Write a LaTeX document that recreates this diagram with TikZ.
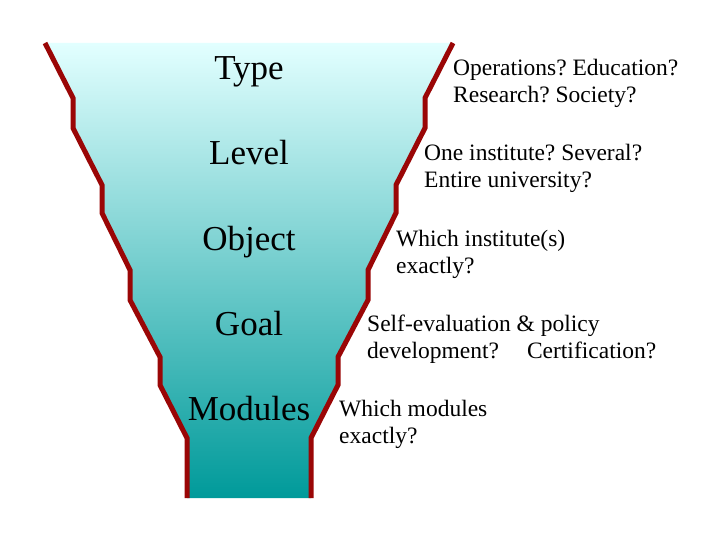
\documentclass[tikz,border=0pt]{standalone}
\usepackage{fontspec}
\setmainfont{Liberation Serif}
\frenchspacing
\definecolor{funneltop}{HTML}{E2FFFF}
\definecolor{funnelbot}{HTML}{009A9A}
\definecolor{edgered}{HTML}{9A0606}
\begin{document}
\begin{tikzpicture}[x=1pt,y=-1pt,
  edge/.style={draw=edgered,line width=5pt,line join=miter},
  stage/.style={anchor=base,inner sep=0pt,font=\fontsize{35}{40}\selectfont},
  question/.style={anchor=base west,inner sep=0pt,align=left,font=\fontsize{23.5}{27}\selectfont}]
\useasboundingbox (0,0) rectangle (720,540);
\shade[top color=funneltop,bottom color=funnelbot]
  (45,43) -- (73,98) -- (73,128) -- (102,185) -- (102,213) -- (130,270) -- (130,300)
  -- (160,357) -- (160,385) -- (187,438) -- (187,498) -- (311,498) -- (311,438)
  -- (338,385) -- (338,357) -- (368,300) -- (368,270) -- (396,213) -- (396,185)
  -- (425,128) -- (425,98) -- (453,43) -- cycle;
\draw[edge] (45,43) -- (73,98) -- (73,128) -- (102,185) -- (102,213) -- (130,270) -- (130,300)
  -- (160,357) -- (160,385) -- (187,438) -- (187,498);
\draw[edge] (453,43) -- (425,98) -- (425,128) -- (396,185) -- (396,213) -- (368,270) -- (368,300)
  -- (338,357) -- (338,385) -- (311,438) -- (311,498);
\node[stage] (type) at (249,80) {Type};
\node[stage] (level) at (249,165) {Level};
\node[stage] (object) at (249,250) {Object};
\node[stage] (goal) at (249,335) {Goal};
\node[stage] (modules) at (249,420) {Modules};
\node[question] (q1) at (453,103) {Operations? Education?\\Research? Society?};
\node[question] (q2) at (424,188) {One institute? Several?\\Entire university?};
\node[question] (q3) at (396,273) {Which institute(s)\\exactly?};
\node[question] (q4) at (367,358) {Self-evaluation \& policy\\development?\hspace{28pt}Certification?};
\node[question] (q5) at (339,443) {Which modules\\exactly?};
\end{tikzpicture}
\end{document}
